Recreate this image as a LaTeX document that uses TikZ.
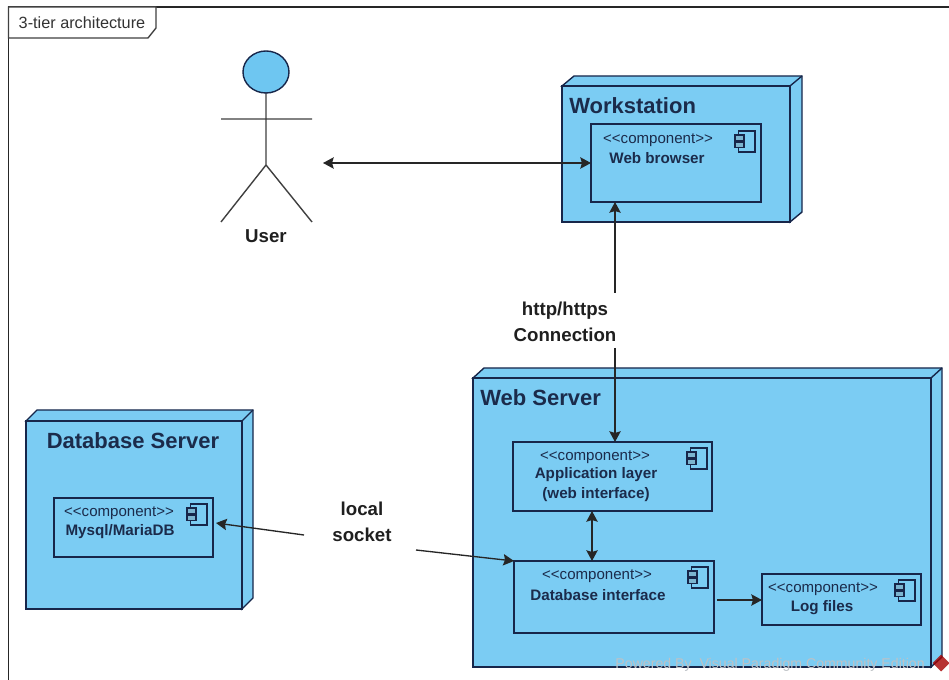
\documentclass[tikz,border=0pt]{standalone}
\usepackage{fontspec}
\setmainfont{Liberation Sans}
\usetikzlibrary{arrows.meta}
\definecolor{nodefill}{HTML}{7BCCF3}
\definecolor{headfill}{HTML}{6EC6F1}
\definecolor{navy}{HTML}{17264A}
\definecolor{inktext}{HTML}{1B2B4B}
\definecolor{graymark}{HTML}{BEC2C6}
\tikzset{
  x=0.75pt,y=-0.75pt,
  edge/.style={draw=navy,line width=1.05pt},
  front/.style={edge,fill=nodefill,inner sep=0pt,outer sep=0pt},
  side/.style={edge,fill=nodefill,line join=miter},
  compbox/.style={edge,inner sep=0pt,outer sep=0pt},
  stereo/.style={font=\fontsize{11.3}{13}\selectfont,text=inktext,inner sep=0pt},
  compname/.style={font=\fontsize{11.4}{13}\selectfont\bfseries,text=inktext,inner sep=0pt},
  title/.style={font=\fontsize{16.5}{19}\selectfont\bfseries,text=inktext,inner sep=0pt},
  label/.style={font=\fontsize{14}{19.5}\selectfont\bfseries,text=black!88,align=center,inner sep=0pt},
  conn/.style={draw=black!85,line width=1pt,-{Stealth[length=8pt,width=8.5pt,inset=1.2pt]}},
  bothconn/.style={draw=black!85,line width=1pt,{Stealth[length=8pt,width=8.5pt,inset=1.2pt]}-{Stealth[length=8pt,width=8.5pt,inset=1.2pt]}},
  stick/.style={draw=black!75,line width=1.05pt},
}
\newcommand{\stereotext}{<{}<component>{}>}
\newcommand{\solidbox}[7]{%
  \draw[side] (#2,#3) -- ++(#6,-#7) -- (#4+#6,#3-#7) -- (#4+#6,#5-#7) -- (#4,#5) -- (#4,#3) -- cycle;
  \draw[edge] (#4,#3) -- (#4+#6,#3-#7);
  \node[front,draw,minimum width={(#4-#2)*0.75pt},minimum height={(#5-#3)*0.75pt},anchor=north west] (#1) at (#2,#3) {};
}
\newcommand{\compbox}[5]{%
  \node[compbox,draw,minimum width={(#4-#2)*0.75pt},minimum height={(#5-#3)*0.75pt},anchor=north west] (#1) at (#2,#3) {};
}
\newcommand{\compicon}[2]{%
  \draw[edge,line width=0.8pt] (#1+3.5,#2) rectangle (#1+20,#2+21);
  \draw[edge,line width=0.8pt,fill=nodefill!70!gray] (#1,#2+4) rectangle (#1+9,#2+9.5);
  \draw[edge,line width=0.8pt,fill=nodefill!70!gray] (#1,#2+11) rectangle (#1+9,#2+16.5);
}
\begin{document}
\begin{tikzpicture}
\useasboundingbox (0,0) rectangle (949,680);
\fill[white] (0,0) rectangle (949,680);

% frame
\draw[draw=black!85,line width=1pt] (949,7) -- (8.5,7) -- (8.5,680);
\draw[draw=black!75,line width=1pt,fill=white] (8.5,7) -- (156,7) -- (156,28) -- (148,38) -- (8.5,38) -- cycle;
\node[font=\fontsize{12.2}{14}\selectfont,text=black!80,inner sep=0pt] (frametitle) at (82,23) {3-tier architecture};

% actor
\draw[stick] (266,93) -- (266,165) (221,119) -- (312,119) (266,165) -- (221,222) (266,165) -- (312,222);
\draw[edge,fill=headfill] (266,72) ellipse [x radius=23,y radius=21];
\node[label] (userlabel) at (266,236) {User};
\coordinate (userport) at (323,163);

% workstation
\solidbox{workstation}{562}{86}{790}{222}{12}{10}
\node[title,anchor=west] (worktitle) at (569,106) {Workstation};
\compbox{browser}{591}{124}{761}{202}
\compicon{735}{131}
\node[stereo] (browserstereo) at (658,140) {\stereotext};
\node[compname] (browsername) at (657,158) {Web browser};

% web server
\solidbox{webserver}{473}{378}{931}{667}{11}{10}
\node[title,anchor=west] (webtitle) at (480,398) {Web Server};
\compbox{applayer}{513}{442}{712}{511}
\compicon{687}{448}
\node[stereo] (appstereo) at (595,457) {\stereotext};
\node[compname,align=center,font=\fontsize{11.4}{15}\selectfont\bfseries] (appname) at (596,485) {Application layer\\(web interface)};
\compbox{dbiface}{514}{561}{714}{633}
\compicon{688}{567}
\node[stereo] (dbstereo) at (597,576) {\stereotext};
\node[compname] (dbname) at (598,595) {Database interface};
\compbox{logfiles}{762}{574}{921}{625}
\compicon{895}{580}
\node[stereo] (logstereo) at (823,589) {\stereotext};
\node[compname] (logname) at (822,608) {Log files};

% database server
\solidbox{dbserver}{26}{421}{242}{609}{11}{11}
\node[title] (dbtitle) at (133,441) {Database Server};
\compbox{mysql}{54}{498}{213}{557}
\compicon{187}{504}
\node[stereo] (mysqlstereo) at (119,513) {\stereotext};
\node[compname] (mysqlname) at (120,532) {Mysql/MariaDB};

% connector labels
\node[label] (httplabel) at (565,322) {http/https\\Connection};
\node[label] (socketlabel) at (362,522) {local\\socket};

% connectors
\coordinate (httptop) at (615,293);
\coordinate (httpbot) at (615,348);
\coordinate (sockl) at (304,535);
\coordinate (sockr) at (416,550);
\coordinate (mid) at (592,530);
\coordinate (logy) at (740,600);
\draw[bothconn] (userport) -- (browser.west |- userport);
\draw[conn] (httptop) -- (browser.south -| httptop);
\draw[conn] (httpbot) -- (applayer.north -| httpbot);
\draw[conn] (sockl) -- (216,523);
\draw[conn] (sockr) -- (dbiface.north west);
\draw[bothconn] (applayer.south -| mid) -- (dbiface.north -| mid);
\draw[conn] ([xshift=2.2pt]dbiface.east |- logy) -- (logfiles.west |- logy);

% watermark
\node[font=\fontsize{10.6}{12}\selectfont,text=graymark,inner sep=0pt,anchor=east] (watermark) at (925,665) {Powered By\ \ Visual Paradigm Community Edition};
\fill[red!65!black,opacity=.8,rotate around={45:(941,663)}] (935,657) rectangle (947,669);
\end{tikzpicture}
\end{document}
